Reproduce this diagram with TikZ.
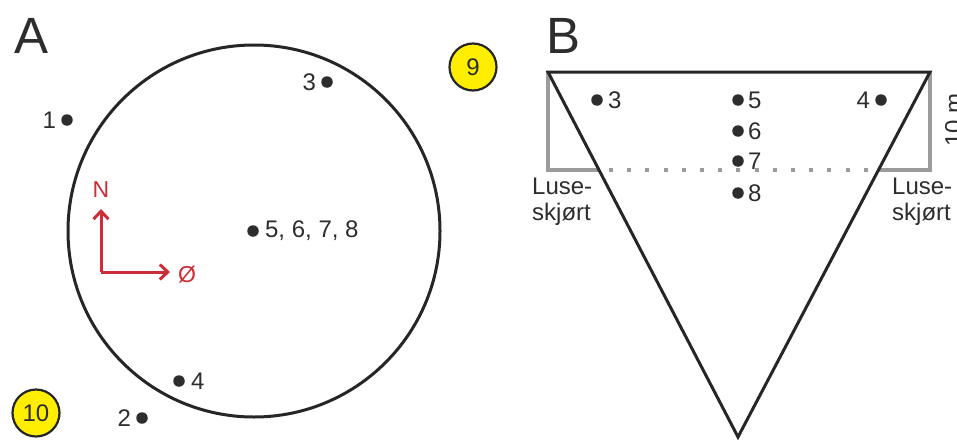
\documentclass[tikz,border=0pt]{standalone}
\usepackage{fontspec}
\setmainfont{Liberation Sans}
\usetikzlibrary{arrows.meta}
\definecolor{txt}{RGB}{45,45,45}
\definecolor{redarrow}{RGB}{205,45,55}
\definecolor{yel}{RGB}{255,238,0}
\definecolor{graybox}{RGB}{155,155,155}
\tikzset{
  pt/.style={circle,fill=txt,inner sep=0pt,minimum size=11.5pt},
  lbl/.style={text=txt,font=\fontsize{24}{27}\selectfont,inner sep=0pt},
  panel/.style={text=txt,font=\fontsize{51}{54}\selectfont,inner sep=0pt},
  badge/.style={circle,draw=black!85,line width=2.2pt,fill=yel,minimum size=47pt,inner sep=0pt,font=\fontsize{24}{26}\selectfont,text=txt},
  outline/.style={draw=black!85,line width=3pt},
  skirt/.style={draw=graybox,line width=3.4pt},
  redarr/.style={draw=redarrow,line width=3pt,-{Straight Barb[length=8pt,width=15pt,line width=3pt]}},
  redlbl/.style={text=redarrow,font=\fontsize{23}{25}\selectfont,inner sep=0pt},
  skirtlbl/.style={text=txt,font=\fontsize{24}{26}\selectfont,inner sep=0pt,align=left}
}
\begin{document}
\begin{tikzpicture}[x=1pt,y=-1pt]
\clip (0,0) rectangle (957,439);
\fill[white] (0,0) rectangle (957,439);
% ---------- Panel A ----------
\node[panel] (pA) at (32,36) {A};
\node[outline,circle,minimum size=372pt,inner sep=0pt] (cage) at (254,231) {};
\node[badge] (b9) at (473,67) {9};
\node[badge] (b10) at (36,413) {10};
\node[pt] (a1) at (67,120) {};
\node[lbl,anchor=east] (la1) at ([xshift=-5pt]a1.west) {1};
\node[pt] (a3) at (327,82) {};
\node[lbl,anchor=east] (la3) at ([xshift=-5pt]a3.west) {3};
\node[pt] (a5) at (253,231) {};
\node[lbl,anchor=west] (la5) at ([xshift=6pt]a5.east) {5, 6, 7, 8};
\node[pt] (a4) at (179,381) {};
\node[lbl,anchor=west] (la4) at ([xshift=6pt]a4.east) {4};
\node[pt] (a2) at (142,418) {};
\node[lbl,anchor=east] (la2) at ([xshift=-5pt]a2.west) {2};
% compass
\coordinate (o) at (101,272);
\coordinate (nt) at (101,209);
\coordinate (et) at (170,272);
\draw[redarr] (o) -- (nt);
\draw[redarr] (o) -- (et);
\node[redlbl] (nN) at (101,190) {N};
\node[redlbl] (nE) at (187,275) {Ø};
% ---------- Panel B ----------
\node[panel] (pB) at (563,36) {B};
\coordinate (tl) at (548,72);
\coordinate (tr) at (930,72);
\coordinate (bt) at (738,437);
\coordinate (rl) at (548,170);
\coordinate (rr) at (930,170);
\coordinate (xl) at (599,170);
\coordinate (xr) at (879,170);
\coordinate (dl) at (609,170);
\coordinate (dr) at (872,170);
\draw[skirt] (tl) -- (rl) -- (xl);
\draw[skirt] (tr) -- (rr) -- (xr);
\draw[draw=graybox,line width=4pt,dash pattern=on 4pt off 14.2pt] (dl) -- (dr);
\draw[outline,line join=miter] (tl) -- (tr) -- (bt) -- cycle;
\node[pt] (b3) at (597,100) {};
\node[lbl,anchor=west] (lb3) at ([xshift=5pt]b3.east) {3};
\node[pt] (b5) at (738,100) {};
\node[lbl,anchor=west] (lb5) at ([xshift=4pt]b5.east) {5};
\node[pt] (b6) at (738,131) {};
\node[lbl,anchor=west] (lb6) at ([xshift=4pt]b6.east) {6};
\node[pt] (b7) at (738,161) {};
\node[lbl,anchor=west] (lb7) at ([xshift=4pt]b7.east) {7};
\node[pt] (b8) at (738,193) {};
\node[lbl,anchor=west] (lb8) at ([xshift=4pt]b8.east) {8};
\node[pt] (b4) at (881,100) {};
\node[lbl,anchor=east] (lb4) at ([xshift=-5pt]b4.west) {4};
\node[skirtlbl,anchor=north west] (sl) at (532,178) {Luse-\\skjørt};
\node[skirtlbl,anchor=north west] (sr) at (892,178) {Luse-\\skjørt};
\node[lbl,rotate=90,anchor=north] (dep) at (945,120) {10 m};
\end{tikzpicture}
\end{document}
